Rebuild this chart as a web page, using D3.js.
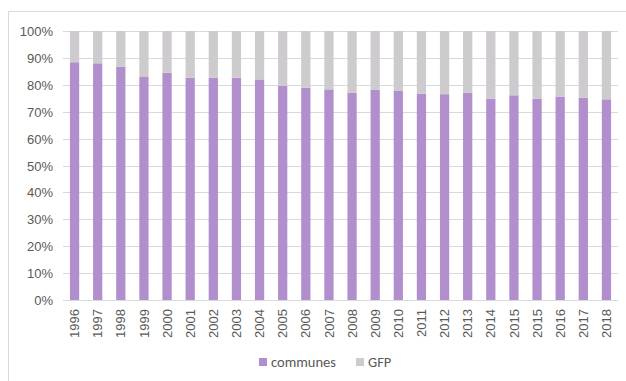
<!DOCTYPE html>
<html>
<head>
<meta charset="utf-8">
<script src="https://cdn.jsdelivr.net/npm/d3@7"></script>
<style>
  html, body { margin: 0; padding: 0; background: #fff; }
  svg { display: block; font-family: Carlito, Calibri, "Open Sans", "Liberation Sans", sans-serif; }
</style>
</head>
<body>
<svg id="chart" width="626" height="381"></svg>
<script>
// Yearly share of communes vs. GFP (100% stacked)
const years = ["1996","1997","1998","1999","2000","2001","2002","2003","2004","2005","2006","2007",
               "2008","2009","2010","2011","2012","2013","2014","2015","2015","2016","2017","2018"];
const communes = [0.884,0.880,0.867,0.829,0.845,0.826,0.826,0.826,0.820,0.796,0.789,0.783,
                  0.771,0.781,0.777,0.767,0.765,0.771,0.748,0.761,0.748,0.755,0.752,0.746];
const gfp = communes.map(v => 1 - v);
const yTicks = [0,0.1,0.2,0.3,0.4,0.5,0.6,0.7,0.8,0.9,1];
const seriesNames = ["communes", "GFP"];
const colors = ["#b08fcc", "#cdcbcd"];

const svg = d3.select("#chart");
const plot = { left: 63, right: 618, top: 31, bottom: 300 };

// chart frame
svg.append("rect")
  .attr("x", 8.5).attr("y", 11.5).attr("width", 640).attr("height", 400)
  .attr("fill", "none").attr("stroke", "#d9d9d9").attr("stroke-width", 1);

const x = d3.scaleBand().domain(d3.range(years.length))
  .range([plot.left, plot.right]).paddingInner(0.6).paddingOuter(0.3);
const y = d3.scaleLinear().domain([0, 1]).range([plot.bottom, plot.top]);

// gridlines
svg.append("g").selectAll("line").data(yTicks).join("line")
  .attr("x1", plot.left).attr("x2", plot.right)
  .attr("y1", d => Math.round(y(d)) + 0.5).attr("y2", d => Math.round(y(d)) + 0.5)
  .attr("stroke", "#d9d9d9").attr("stroke-width", 1);

// y axis labels
const yAxis = d3.axisLeft(y).tickValues(yTicks).tickFormat(d3.format(".0%")).tickSize(0).tickPadding(0);
const gy = svg.append("g").attr("transform", `translate(${plot.left - 10},0)`).call(yAxis);
gy.select(".domain").remove();
gy.selectAll("text").attr("fill", "#595959").attr("font-size", 13).attr("dy", "0.35em");

// stacked bars
const rows = years.map((yr, i) => ({ i, communes: communes[i], GFP: gfp[i] }));
const stack = d3.stack().keys(seriesNames)(rows);
svg.append("g").selectAll("g").data(stack).join("g")
  .attr("fill", (d, k) => colors[k])
  .selectAll("rect").data(d => d).join("rect")
  .attr("x", d => x(d.data.i))
  .attr("width", x.bandwidth())
  .attr("y", d => y(d[1]))
  .attr("height", d => y(d[0]) - y(d[1]));

// x axis labels (rotated)
const xAxis = d3.axisBottom(x).tickFormat(i => years[i]).tickSize(0).tickPadding(0);
const gx = svg.append("g").attr("transform", `translate(0,${plot.bottom})`).call(xAxis);
gx.select(".domain").remove();
gx.selectAll("text")
  .attr("fill", "#595959").attr("font-size", 13)
  .attr("transform", "rotate(-90)")
  .attr("text-anchor", "end")
  .attr("x", -9).attr("y", 0).attr("dy", "0.35em");

// legend
const legend = svg.append("g");
const legendItems = [{ name: seriesNames[0], x: 259 }, { name: seriesNames[1], x: 356 }];
legendItems.forEach((it, k) => {
  legend.append("rect").attr("x", it.x).attr("y", 358).attr("width", 8).attr("height", 8).attr("fill", colors[k]);
  legend.append("text").attr("x", it.x + 12).attr("y", 362).attr("dy", "0.35em")
    .attr("fill", "#595959").attr("font-size", 14.5).text(it.name);
});
</script>
</body>
</html>
